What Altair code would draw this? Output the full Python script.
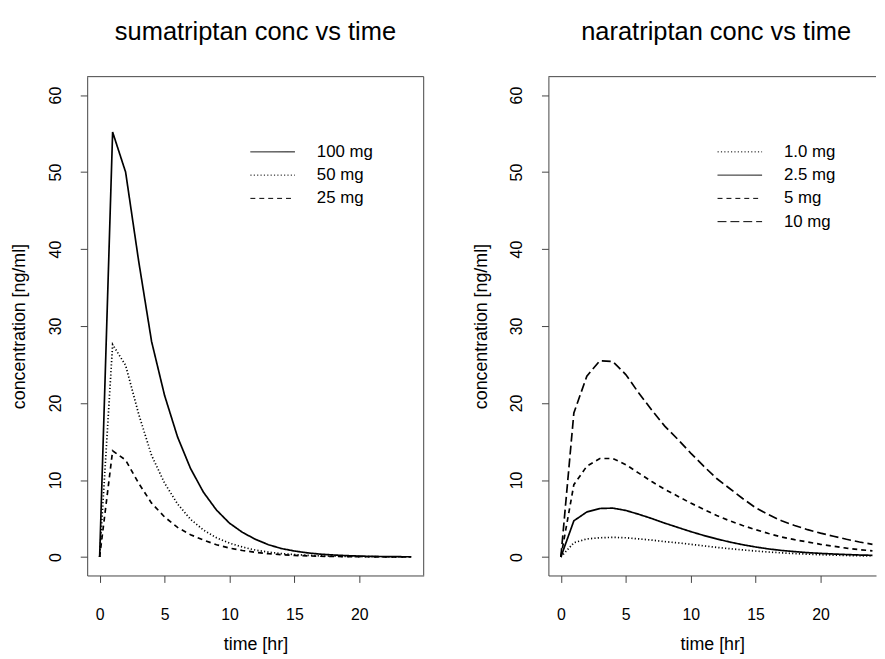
import altair as alt
import pandas as pd

# ---------------- data ----------------
hours = list(range(25))

suma_doses = ["100 mg", "50 mg", "25 mg"]
suma_100 = [0, 55.2, 50.0, 38.5, 28.0, 21.0, 15.6, 11.5, 8.4, 6.1, 4.4, 3.2, 2.3, 1.6, 1.1,
            0.78, 0.54, 0.37, 0.26, 0.18, 0.12, 0.08, 0.06, 0.04, 0.03]
suma_50 = [0, 27.6, 24.9, 18.6, 13.2, 9.6, 6.9, 4.9, 3.5, 2.5, 1.8, 1.3, 0.9, 0.64, 0.45,
           0.32, 0.22, 0.15, 0.11, 0.08, 0.05, 0.04, 0.03, 0.02, 0.01]
suma_25 = [0, 13.8, 12.6, 9.6, 7.0, 5.2, 3.85, 2.9, 2.2, 1.6, 1.15, 0.85, 0.6, 0.43, 0.3,
           0.21, 0.15, 0.1, 0.07, 0.05, 0.04, 0.03, 0.02, 0.01, 0.01]

nara_doses = ["1.0 mg", "2.5 mg", "5 mg", "10 mg"]
nara_1 = [0, 1.85, 2.35, 2.5, 2.55, 2.5, 2.35, 2.2, 2.0, 1.84, 1.65, 1.45, 1.25, 1.08, 0.92,
          0.78, 0.65, 0.54, 0.45, 0.37, 0.3, 0.25, 0.2, 0.16, 0.13]
nara_2_5 = [0, 4.7, 5.85, 6.3, 6.35, 6.05, 5.55, 5.0, 4.4, 3.85, 3.3, 2.8, 2.35, 1.95, 1.6,
            1.3, 1.05, 0.85, 0.7, 0.57, 0.47, 0.39, 0.32, 0.26, 0.22]
nara_5 = [0, 9.4, 11.8, 12.8, 12.8, 12.0, 10.9, 9.8, 8.8, 7.9, 7.0, 6.2, 5.4, 4.7, 4.1,
          3.55, 3.05, 2.6, 2.25, 1.95, 1.65, 1.4, 1.15, 0.95, 0.8]
nara_10 = [0, 18.7, 23.5, 25.5, 25.4, 23.7, 21.3, 19.1, 17.0, 15.3, 13.5, 11.8, 10.2, 8.9, 7.6,
           6.4, 5.5, 4.7, 4.1, 3.55, 3.1, 2.7, 2.3, 1.95, 1.65]

x_ticks = [0, 5, 10, 15, 20]
y_ticks = [0, 10, 20, 30, 40, 50, 60]


def long_table(doses, series):
    rows = []
    for dose, vals in zip(doses, series):
        for t, v in zip(hours, vals):
            rows.append({"time": t, "conc": v, "dose": dose})
    return pd.DataFrame(rows)


suma_df = long_table(suma_doses, [suma_100, suma_50, suma_25])
nara_df = long_table(nara_doses, [nara_1, nara_2_5, nara_5, nara_10])

# ---------------- style ----------------
FONT = "Liberation Sans"
H = 504
W_LEFT = 340
W_RIGHT = 331
PX_PER_HR = W_LEFT / 25.92
INK = "#444444"

SOLID = [1, 0]
DOTTED = [1.2, 2.2]
DASHED = [5, 4]
LONGDASH = [9, 4]

frame_df = pd.DataFrame({"k": [0]})


def panel(df, doses, dashes, title, width, right_border, title_dx, legend_x):
    x_max = -0.96 + width / PX_PER_HR
    x = alt.X(
        "time:Q",
        scale=alt.Scale(domain=[-0.96, x_max], nice=False, zero=False),
        axis=alt.Axis(values=x_ticks, title="time [hr]", labelPadding=24,
                      titleY=75, titleBaseline="alphabetic"),
    )
    y = alt.Y(
        "conc:Q",
        scale=alt.Scale(domain=[-2.4, 62.4], nice=False, zero=False),
        axis=alt.Axis(values=y_ticks, title="concentration [ng/ml]",
                      labelAngle=270, labelAlign="center", labelBaseline="alphabetic",
                      labelPadding=20, titleAngle=270, titleAlign="center",
                      titleBaseline="alphabetic", titleX=-63, titleY=H / 2),
    )
    dash = alt.StrokeDash(
        "dose:N",
        scale=alt.Scale(domain=doses, range=dashes),
        legend=alt.Legend(
            title=None, orient="none", legendX=legend_x, legendY=67.5,
            symbolType="M-1,0H8", symbolSize=100, symbolStrokeWidth=1,
            symbolStrokeColor="black", symbolFillColor="transparent",
            labelFont=FONT, labelFontSize=17, labelColor="black",
            labelOffset=53.6, rowPadding=5.5, padding=0,
        ),
    )
    lines = (
        alt.Chart(df)
        .mark_line(color="black", strokeWidth=1.7)
        .encode(x=x, y=y, strokeDash=dash)
    )
    top = alt.Chart(frame_df).mark_rule(color=INK, strokeWidth=1).encode(
        x=alt.value(0), x2=alt.value(width), y=alt.value(0)
    )
    layers = [lines, top]
    if right_border:
        layers.append(
            alt.Chart(frame_df).mark_rule(color=INK, strokeWidth=1).encode(
                x=alt.value(width), y=alt.value(0), y2=alt.value(H)
            )
        )
    return alt.layer(*layers).properties(
        width=width, height=H,
        title=alt.TitleParams(title, font=FONT, fontSize=25.7, fontWeight="normal",
                              color="black", baseline="alphabetic", offset=11.1,
                              anchor="middle", frame="group", dx=title_dx),
    )


left = panel(suma_df, suma_doses, [SOLID, DOTTED, DASHED], "sumatriptan conc vs time",
             W_LEFT, True, 0, 161.4)
right = panel(nara_df, nara_doses, [DOTTED, SOLID, DASHED, LONGDASH],
              "naratriptan conc vs time", W_RIGHT, False, 4, 167.4)

chart = (
    alt.hconcat(left, right, spacing=126, bounds="flush")
    .resolve_scale(strokeDash="independent", x="independent", y="independent")
    .resolve_legend(strokeDash="independent")
    .properties(padding={"left": 3, "top": 7, "right": 0, "bottom": 0})
    .configure_view(stroke="transparent", strokeWidth=0)
    .configure_axis(
        domain=True, domainColor=INK, domainWidth=1,
        grid=False, tickColor=INK, tickSize=7, tickWidth=1,
        labelFont=FONT, labelFontSize=16, labelColor="black",
        titleFont=FONT, titleFontSize=18, titleFontWeight="normal", titleColor="black",
    )
)

chart.save("out.html", embed_options={"renderer": "svg", "actions": False})
